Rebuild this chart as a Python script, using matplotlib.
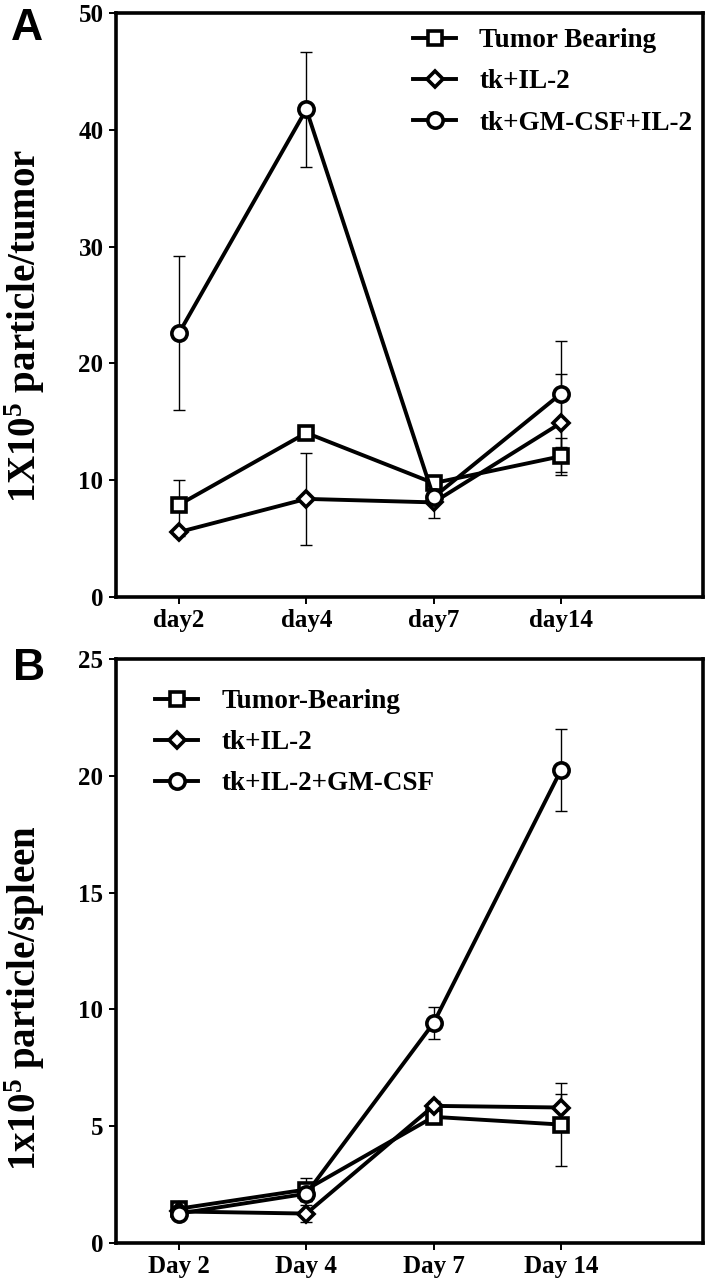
import matplotlib
matplotlib.use('Agg')
import matplotlib.pyplot as plt

plt.rcParams['font.family'] = 'Liberation Serif'
plt.rcParams['font.weight'] = 'bold'
plt.rcParams['axes.labelweight'] = 'bold'
plt.rcParams['mathtext.fontset'] = 'custom'
plt.rcParams['mathtext.rm'] = 'Liberation Serif:bold'
plt.rcParams['mathtext.bf'] = 'Liberation Serif:bold'

# panel A - tumor
days_a = ['day2', 'day4', 'day7', 'day14']
tumor_a = [7.9, 14.05, 9.75, 12.05]
tumor_a_err = [2.15, 0.3, 0.4, 1.6]
tkil2_a = [5.56, 8.4, 8.1, 14.9]
tkil2_a_err = [0.3, 3.95, 1.3, 4.2]
gm_a = [22.6, 41.75, 8.55, 17.4]
gm_a_err = [6.6, 4.9, 0.5, 4.55]
labels_a = ['Tumor Bearing', 'tk+IL-2', 'tk+GM-CSF+IL-2']

# panel B - spleen
days_b = ['Day 2', 'Day 4', 'Day 7', 'Day 14']
tumor_b = [1.47, 2.29, 5.40, 5.07]
tumor_b_err = [0.2, 0.5, 0.2, 1.77]
tkil2_b = [1.35, 1.26, 5.87, 5.80]
tkil2_b_err = [0.1, 0.35, 0.2, 0.57]
gm_b = [1.26, 2.11, 9.42, 20.24]
gm_b_err = [0.1, 0.3, 0.7, 1.75]
labels_b = ['Tumor-Bearing', 'tk+IL-2', 'tk+IL-2+GM-CSF']

markers = [('s', 10.5), ('D', 8), ('o', 11)]


def draw_panel(ax, days, series, errs, labels):
    x = list(range(len(days)))
    for y, e, (m, ms), lab in zip(series, errs, markers, labels):
        ax.errorbar(x, y, yerr=e, fmt='none', ecolor='black', elinewidth=1.0,
                    capsize=4, capthick=1.0, zorder=2)
        ax.plot(x, y, color='black', lw=2.8, marker=m, ms=ms, mfc='white',
                mec='black', mew=2.6, label=lab, zorder=3)
    ax.set_xticks(x)
    ax.set_xticklabels(days)
    ax.set_xlim(-0.495, 4.116)
    for sp in ax.spines.values():
        sp.set_linewidth(2.6)
    ax.tick_params(direction='out', length=5, width=1.4, labelsize=18, pad=4)


fig = plt.figure(figsize=(7.05, 12.8), dpi=100)
axA = fig.add_axes([116 / 705, 1 - 597 / 1280, 587 / 705, 584 / 1280])
axB = fig.add_axes([116 / 705, 1 - 1243 / 1280, 587 / 705, 584 / 1280])

draw_panel(axA, days_a, [tumor_a, tkil2_a, gm_a], [tumor_a_err, tkil2_a_err, gm_a_err], labels_a)
axA.set_ylim(0, 50)
axA.set_yticks([0, 10, 20, 30, 40, 50])
axA.legend(loc='upper left', bbox_to_anchor=(413 / 705, 1 - 28 / 1280),
           bbox_transform=fig.transFigure, frameon=False, fontsize=19.5,
           handlelength=1.6, handletextpad=0.85, labelspacing=0.6,
           borderpad=0, borderaxespad=0)

draw_panel(axB, days_b, [tumor_b, tkil2_b, gm_b], [tumor_b_err, tkil2_b_err, gm_b_err], labels_b)
axB.set_ylim(0, 25)
axB.set_yticks([0, 5, 10, 15, 20, 25])
axB.legend(loc='upper left', bbox_to_anchor=(155 / 705, 1 - 689 / 1280),
           bbox_transform=fig.transFigure, frameon=False, fontsize=19.5,
           handlelength=1.6, handletextpad=0.85, labelspacing=0.6,
           borderpad=0, borderaxespad=0)

# y axis titles
fig.text(25 / 705, 1 - 326 / 1280, r'1X10$\mathregular{^5}$ particle/tumor',
         fontsize=28, weight='bold', rotation=90, ha='center', va='center')
fig.text(25 / 705, 1 - 998 / 1280, r'1x10$\mathregular{^5}$ particle/spleen',
         fontsize=28, weight='bold', rotation=90, ha='center', va='center')

fig.text(27 / 705, 1 - 28 / 1280, 'A', family='Liberation Sans', weight='bold',
         fontsize=32, ha='center', va='center')
fig.text(29 / 705, 1 - 668 / 1280, 'B', family='Liberation Sans', weight='bold',
         fontsize=32, ha='center', va='center')

fig.savefig('out.png', dpi=100)
